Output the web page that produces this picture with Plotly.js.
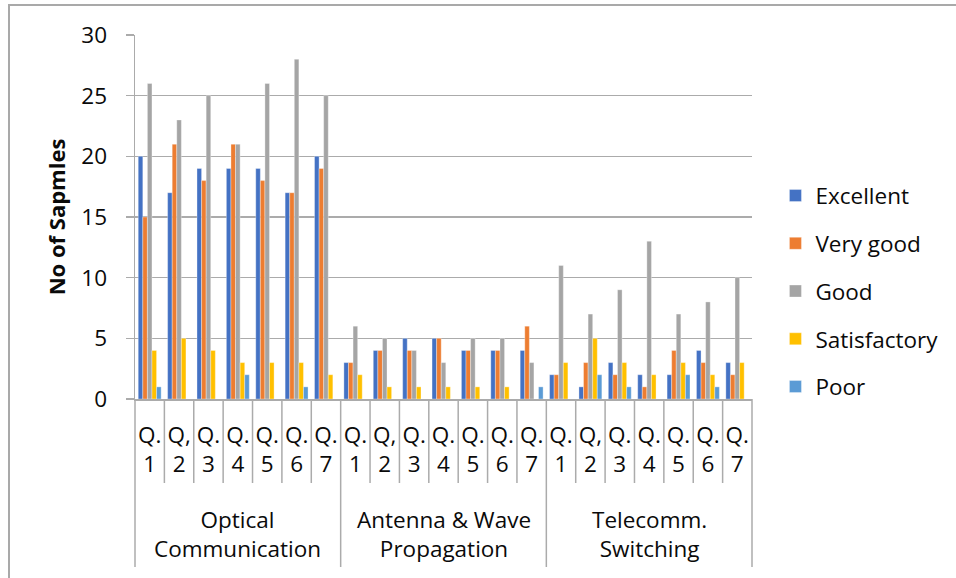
<!DOCTYPE html>
<html>
<head>
<meta charset="utf-8">
<script src="https://cdn.plot.ly/plotly-3.0.1.min.js"></script>
<style>
  html, body { margin: 0; padding: 0; background: #fff; }
  #wrap { position: relative; width: 956px; height: 578px; overflow: hidden; }
  #chart { width: 956px; height: 578px; }
  #frame { position: absolute; left: 8px; top: 4px; width: 1000px; height: 700px;
           border-top: 2px solid #a9a9a9; border-left: 2px solid #a9a9a9; pointer-events: none; }
</style>
</head>
<body>
<div id="wrap"><div id="chart"></div><div id="frame"></div></div>
<script>
// ---- data ----
var groups = ["Optical<br>Communication", "Antenna & Wave<br>Propagation", "Telecomm.<br>Switching"];
var questions = ["Q.<br>1", "Q,<br>2", "Q.<br>3", "Q.<br>4", "Q.<br>5", "Q.<br>6", "Q.<br>7"];
var seriesNames = ["Excellent", "Very good", "Good", "Satisfactory", "Poor"];
var excellent    = [20, 17, 19, 19, 19, 17, 20,   3, 4, 5, 5, 4, 4, 4,   2, 1, 3, 2, 2, 4, 3];
var veryGood     = [15, 21, 18, 21, 18, 17, 19,   3, 4, 4, 5, 4, 4, 6,   2, 3, 2, 1, 4, 3, 2];
var good         = [26, 23, 25, 21, 26, 28, 25,   6, 5, 4, 3, 5, 5, 3,  11, 7, 9, 13, 7, 8, 10];
var satisfactory = [ 4,  5,  4,  3,  3,  3,  2,   2, 1, 1, 1, 1, 1, 0,   3, 5, 3, 2, 3, 2, 3];
var poor         = [ 1,  0,  0,  2,  0,  1,  0,   0, 0, 0, 0, 0, 0, 1,   0, 2, 1, 0, 2, 1, 0];
var yTickVals = [0, 5, 10, 15, 20, 25, 30];
var yTitle = "No of Sapmles";

// ---- styling ----
var colors = ["#4472C4", "#ED7D31", "#A5A5A5", "#FFC000", "#5B9BD5"];
var FONT = "Open Sans, Liberation Sans, sans-serif";
var FS = 22.5;
var GRID = "#ababab";
var TXT = "#0a0a0a";

var allSeries = [excellent, veryGood, good, satisfactory, poor];
var nCat = groups.length * questions.length;
var xIdx = [], tickText = [];
for (var g = 0; g < groups.length; g++) {
  for (var q = 0; q < questions.length; q++) {
    xIdx.push(g * questions.length + q);
    tickText.push(questions[q]);
  }
}

var traces = allSeries.map(function (vals, i) {
  return {
    type: "bar",
    name: seriesNames[i],
    x: xIdx,
    y: vals,
    legendgroup: "g" + i,
    marker: { color: colors[i], line: { color: "rgba(255,255,255,0.55)", width: 0.6 } },
    hoverinfo: "x+y+name"
  };
});

// separator lines below the category axis (computed from category counts)
var shortDepth = -(483 - 399) / 364;
var longDepth = -(567 - 399) / 364;
var shapes = [];
function px(b) { return (b + 0.5) / nCat; }
for (var b = -0.5; b <= nCat - 0.5 + 1e-9; b += 1) {
  var isGroupEdge = Math.abs(((b + 0.5) % questions.length)) < 1e-9;
  shapes.push({
    type: "line", xref: "paper", yref: "paper",
    x0: px(b), x1: px(b), y0: 0, y1: isGroupEdge ? longDepth : shortDepth,
    line: { color: GRID, width: 1.5 }
  });
}

var annotations = groups.map(function (gName, gi) {
  return {
    text: gName,
    xref: "x", yref: "paper",
    x: gi * questions.length + (questions.length - 1) / 2,
    y: -(534 - 399) / 364,
    xanchor: "center", yanchor: "middle",
    showarrow: false,
    font: { family: FONT, size: FS, color: TXT }
  };
});

var layout = {
  width: 956, height: 578,
  margin: { l: 135, r: 204, t: 35, b: 179, pad: 0 },
  paper_bgcolor: "#fff", plot_bgcolor: "#fff",
  font: { family: FONT, size: FS, color: TXT },
  barmode: "group",
  bargap: 0.22,
  bargroupgap: 0,
  showlegend: true,
  legend: {
    x: 1.038, xanchor: "left", y: 0.617, yanchor: "top",
    font: { family: FONT, size: FS, color: TXT },
    traceorder: "grouped", tracegroupgap: 15.5,
    bgcolor: "rgba(0,0,0,0)", borderwidth: 0
  },
  xaxis: {
    type: "linear",
    range: [-0.5, nCat - 0.5],
    tickmode: "array", tickvals: xIdx, ticktext: tickText,
    ticks: "", showgrid: false, zeroline: false,
    showline: true, linecolor: GRID, linewidth: 1.5,
    tickfont: { family: FONT, size: FS, color: TXT },
    ticklabelstandoff: 15,
    fixedrange: true
  },
  yaxis: {
    range: [0, 30],
    tickmode: "array", tickvals: yTickVals,
    ticks: "outside", ticklen: 8, tickcolor: GRID, tickwidth: 1.5,
    showgrid: true, gridcolor: GRID, gridwidth: 1.5,
    zeroline: false,
    showline: true, linecolor: GRID, linewidth: 1.5,
    tickfont: { family: FONT, size: FS, color: TXT },
    ticklabelstandoff: 14,
    title: { text: "<b>" + yTitle + "</b>", font: { family: FONT, size: 22, color: TXT }, standoff: 9 },
    fixedrange: true
  },
  shapes: shapes,
  annotations: annotations
};

Plotly.newPlot("chart", traces, layout, { displayModeBar: false, staticPlot: true });
</script>
</body>
</html>
